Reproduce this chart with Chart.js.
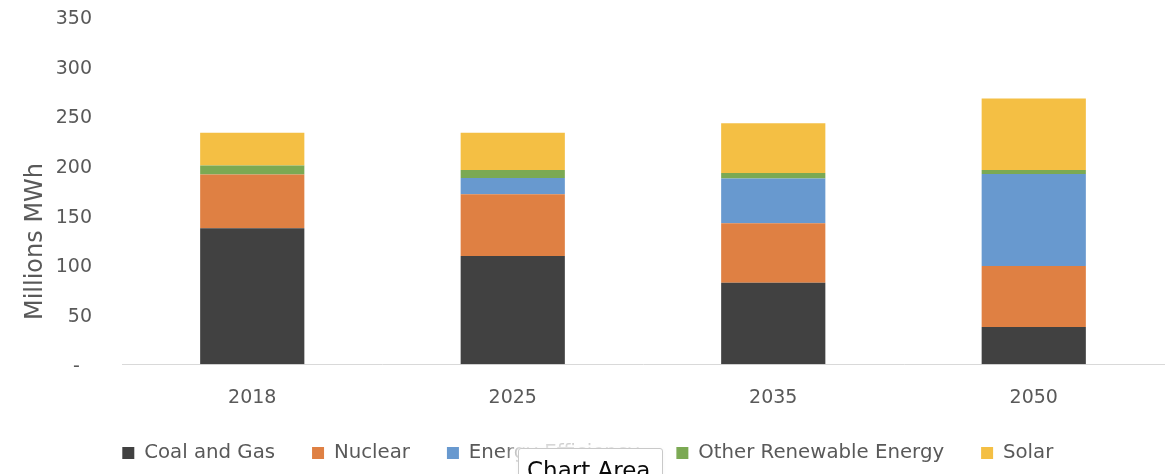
<!DOCTYPE html>
<html>
<head>
<meta charset="utf-8">
<script src="https://cdn.jsdelivr.net/npm/chart.js@4.4.1/dist/chart.umd.min.js"></script>
<style>
  html, body { margin: 0; padding: 0; background: #fff; overflow: hidden; }
  #wrap { position: relative; width: 1173px; height: 474px; }
  #chart { position: absolute; left: 0; top: 0; }
  .tip {
    position: absolute; left: 518px; top: 448px; width: 145px; height: 40px;
    background: #fff; border: 1px solid #c9c9c9; border-radius: 3px;
    box-shadow: 0 -3px 10px 6px rgba(255,255,255,0.85), 0 0 4px rgba(0,0,0,0.12);
    font-family: "DejaVu Sans", sans-serif; font-size: 23px; color: #0a0a0a;
    box-sizing: border-box; padding: 8px 0 0 8px; white-space: nowrap; overflow: hidden;
  }
</style>
</head>
<body>
<div id="wrap">
  <canvas id="chart" width="1173" height="474"></canvas>
  <div class="tip">Chart Area</div>
</div>
<script>
// Electricity supply by source, millions of MWh
const years = ['2018', '2025', '2035', '2050'];
const coalAndGas = [137, 109, 82, 37.5];
const nuclear = [54, 62, 60, 61.5];
const energyEfficiency = [0, 16.5, 45, 92.5];
const otherRenewable = [9, 8, 5.5, 4];
const solar = [33, 37.5, 50, 72];
const yTicks = [0, 50, 100, 150, 200, 250, 300, 350];
const yTitle = 'Millions MWh';

const seriesNames = ['Coal and Gas', 'Nuclear', 'Energy Efficiency', 'Other Renewable Energy', 'Solar'];
const seriesColors = ['#414141', '#DF8043', '#6899CF', '#7BA953', '#F4BF44'];

const FONT = '"DejaVu Sans", sans-serif';
const TEXT = '#595959';
const LEGEND_PAD = 37;

// Rotated y-axis title, placed lower than the plot centre
const yTitlePlugin = {
  id: 'yTitle',
  afterDraw(chart) {
    const ctx = chart.ctx;
    ctx.save();
    ctx.translate(42, 241.5);
    ctx.rotate(-Math.PI / 2);
    ctx.font = '24px ' + FONT;
    ctx.fillStyle = TEXT;
    ctx.textAlign = 'center';
    ctx.textBaseline = 'alphabetic';
    ctx.fillText(yTitle, 0, 0);
    ctx.restore();
  }
};

// Legend row starts under the plot's left edge rather than page centre
const legendOffset = {
  id: 'legendOffset',
  afterLayout(chart) {
    const lg = chart.legend;
    const w = lg.right - lg.left;
    lg.left = 122.3 - LEGEND_PAD;
    lg.right = lg.left + w;
  }
};

const datasets = [coalAndGas, nuclear, energyEfficiency, otherRenewable, solar].map((d, i) => ({
  label: seriesNames[i],
  data: d,
  backgroundColor: seriesColors[i]
}));

new Chart(document.getElementById('chart'), {
  type: 'bar',
  data: { labels: years, datasets },
  options: {
    responsive: false,
    animation: false,
    events: [],
    layout: { padding: { left: 15, right: 9, top: 16.5, bottom: 1.25 } },
    datasets: { bar: { categoryPercentage: 1.0, barPercentage: 0.4, borderWidth: 0 } },
    scales: {
      x: {
        stacked: true,
        grid: { display: false, drawTicks: false },
        border: { display: true, color: '#D9D9D9', width: 1 },
        ticks: { color: TEXT, font: { family: FONT, size: 19 }, padding: 22 },
        afterFit(scale) { scale.height = 41.75; }
      },
      y: {
        stacked: true,
        min: 0, max: 350,
        afterBuildTicks(scale) { scale.ticks = yTicks.map(v => ({ value: v })); },
        grid: { display: false, drawTicks: false },
        border: { display: false },
        ticks: {
          color: TEXT, font: { family: FONT, size: 19 }, padding: 30, labelOffset: 2.5,
          callback: v => (v === 0 ? '-  ' : String(v))
        },
        afterFit(scale) {
          scale.width = 107;
          scale.paddingTop = 0;
          scale.paddingBottom = 0;
        }
      }
    },
    plugins: {
      legend: {
        position: 'bottom',
        align: 'start',
        labels: {
          boxWidth: 12, boxHeight: 12,
          padding: LEGEND_PAD,
          color: TEXT, font: { family: FONT, size: 19.75 }
        }
      },
      tooltip: { enabled: false },
      title: { display: false }
    }
  },
  plugins: [yTitlePlugin, legendOffset]
});
</script>
</body>
</html>
